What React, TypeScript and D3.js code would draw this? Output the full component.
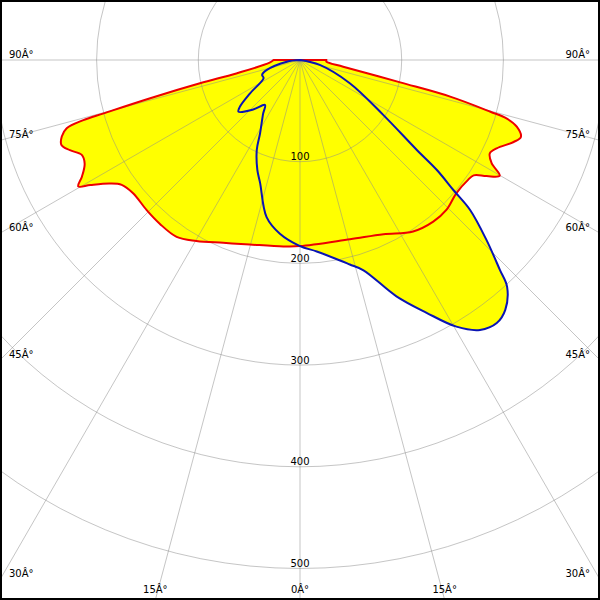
import React from "react";
import * as d3 from "d3";

// Photometric polar diagram: angle (deg from nadir, negative = left) and intensity (cd)
const redAngles = [-90, -84.9, -78.1, -76.9, -75.7, -74.8, -74.5, -73.7, -72.2, -70.4, -68.6, -66.5, -64.3, -61.9, -60.3, -59.2, -57.0, -55.0, -51.4, -45.6, -40.6, -34.9, -29.8, -22.8, -15.2, -5.1, 0, 15.6, 25.6, 33.4, 39.5, 44.4, 49.6, 54.5, 56.4, 58.1, 59.9, 61.7, 63.8, 65.8, 69.0, 70.8, 72.9, 74.2, 74.8, 76.3, 77.4, 81.2, 86.4, 90];
const redValues = [26, 30, 64, 101, 152, 200, 221, 239, 246, 249, 243, 234, 235, 243, 251, 240, 223, 214, 210, 211, 212, 212, 205, 195, 188, 184, 183, 183, 190, 202, 206, 206, 202, 203, 205, 216, 227, 214, 208, 212, 225, 230, 223, 211, 194, 152, 101, 43, 26, 26];

const blueAngles = [-90, -82.7, -73.3, -68.6, -63.5, -56.3, -52.1, -50.0, -43.4, -37.9, -34.5, -28.6, -25.7, -21.2, -18.0, -12.0, -6.6, 0, 5.0, 11.3, 13.7, 16.8, 22.2, 26.6, 30.4, 33.7, 36.8, 39.4, 42.4, 43.6, 46.0, 48.6, 49.7, 51.2, 52.4, 56.6, 65.0, 76.0, 90];
const blueValues = [0, 13, 34, 40, 40, 59, 75, 79, 67, 56, 64, 82, 98, 116, 127, 158, 172, 183, 189, 201, 207, 216, 251, 278, 304, 319, 323, 318, 302, 285, 255, 223, 198, 173, 145, 98, 54, 20, 0];

const ringValues = [100, 200, 300, 400, 500];
const ringLabels = ["100", "200", "300", "400", "500"];
const spokeAngles = [-90, -75, -60, -45, -30, -15, 0, 15, 30, 45, 60, 75, 90];
const spokeLabels = ["90Â°", "75Â°", "60Â°", "45Â°", "30Â°", "15Â°", "0Â°", "15Â°", "30Â°", "45Â°", "60Â°", "75Â°", "90Â°"];

const W = 600, H = 600;
const CX = 300, CY = 60;
const FONT = "'DejaVu Sans', sans-serif";

export default function App() {
  const r = d3.scaleLinear().domain([0, 500]).range([0, 508.5]);
  const toRad = (g: number) => (g * Math.PI) / 180;

  const radial = d3
    .lineRadial<[number, number]>()
    .angle((d) => Math.PI - toRad(d[0]))
    .radius((d) => r(d[1]))
    .curve(d3.curveCatmullRom.alpha(0.5));

  const redData = redAngles.map((a, i) => [a, redValues[i]] as [number, number]);
  const blueData = blueAngles.map((a, i) => [a, blueValues[i]] as [number, number]);
  const redPath = (radial(redData) || "") + "Z";
  const bluePath = (radial(blueData) || "") + "Z";

  const spokes = spokeAngles.map((g, i) => {
    const s = Math.sin(toRad(g));
    const c = Math.cos(toRad(g));
    const tBottom = c > 1e-9 ? (H - CY) / c : Infinity;
    const tSide = Math.abs(s) > 1e-9 ? CX / Math.abs(s) : Infinity;
    const t = Math.min(tBottom, tSide);
    const x = CX + s * t;
    const y = CY + c * t;
    let lx = x, ly = y, anchor = "middle";
    if (tBottom <= tSide) {
      ly = 593;
    } else if (s < 0) {
      lx = 9; ly = y - 2.5; anchor = "start";
    } else {
      lx = 590; ly = y - 2.5; anchor = "end";
    }
    return { g, x, y, lx, ly, anchor, label: spokeLabels[i] };
  });

  return (
    <svg
      width={W}
      height={H}
      style={{ position: "absolute", left: 0, top: 0, background: "#fff" }}
    >
      <rect x={0} y={0} width={W} height={H} fill="#fff" />
      <g transform={`translate(${CX},${CY})`}>
        <path d={bluePath} fill="#ffff00" stroke="none" />
        <path d={redPath} fill="#ffff00" stroke="none" />
      </g>
      <g stroke="#8c8c8c" strokeOpacity={0.5} fill="none" strokeWidth={1}>
        {ringValues.map((v) => (
          <circle key={v} cx={CX} cy={CY} r={r(v)} />
        ))}
        {spokes.map((s) => (
          <line key={s.g} x1={CX} y1={CY} x2={s.x} y2={s.y} />
        ))}
      </g>
      <g transform={`translate(${CX},${CY})`} fill="none" strokeWidth={2} strokeLinejoin="round">
        <path d={redPath} stroke="#ee0000" />
        <path d={bluePath} stroke="#0a14b4" />
      </g>
      <g fontFamily={FONT} fontSize={10} fill="#000">
        {ringValues.map((v, i) => (
          <text key={v} x={CX} y={CY + r(v) - 1.5} textAnchor="middle">
            {ringLabels[i]}
          </text>
        ))}
        {spokes.map((s) => (
          <text key={"l" + s.g} x={s.lx} y={s.ly} textAnchor={s.anchor as any}>
            {s.label}
          </text>
        ))}
      </g>
      <rect x={1} y={1} width={W - 2} height={H - 2} fill="none" stroke="#000" strokeWidth={2} />
    </svg>
  );
}
